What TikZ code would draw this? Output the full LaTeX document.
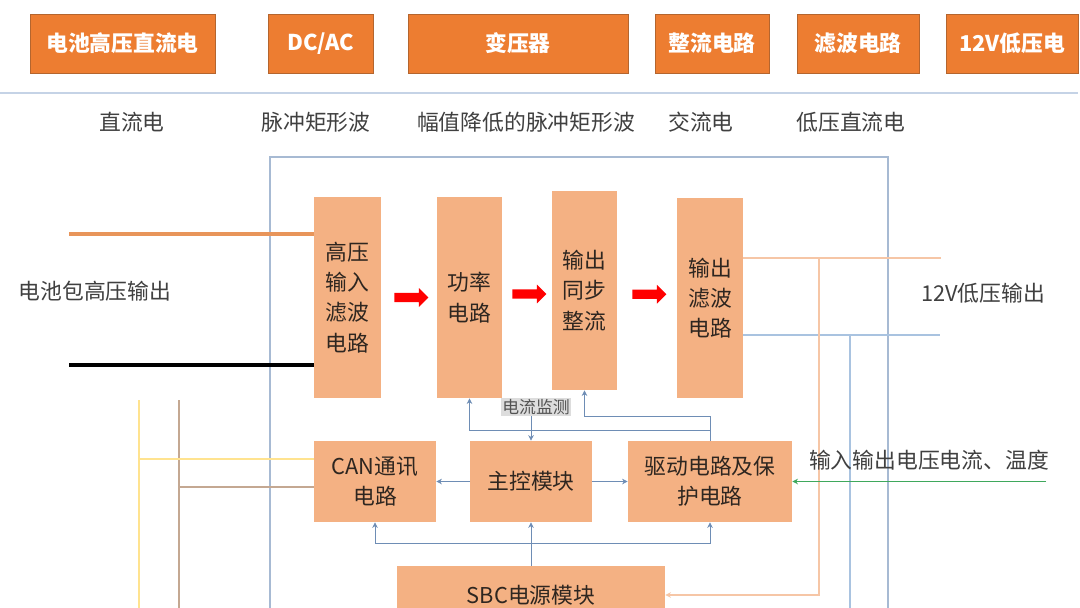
\documentclass[tikz,border=0pt]{standalone}
\usepackage{fontspec}
\setmainfont{Noto Sans CJK SC}
\usetikzlibrary{shapes.arrows, arrows.meta, positioning, calc}

\definecolor{topfill}{HTML}{ED7D31}
\definecolor{topedge}{HTML}{B4652E}
\definecolor{blockfill}{HTML}{F4B183}
\definecolor{blocktext}{HTML}{2E2620}
\definecolor{framecol}{HTML}{A7BAD3}
\definecolor{sepcol}{HTML}{C5D3E6}
\definecolor{linkcol}{HTML}{6E8DB5}
\definecolor{peachcol}{HTML}{F6C6A6}
\definecolor{skycol}{HTML}{A9C3E0}
\definecolor{wireorange}{HTML}{E8955A}
\definecolor{yellowcol}{HTML}{FFE38F}
\definecolor{tancol}{HTML}{C4A892}
\definecolor{greencol}{HTML}{3FA85C}
\definecolor{textgray}{HTML}{404040}
\definecolor{sensebg}{HTML}{DDDDDD}

\newcommand{\bigfont}{\fontsize{15.5}{21.5}\selectfont}
\newcommand{\smallfont}{\fontsize{12}{14}\selectfont}

\begin{document}
\begin{tikzpicture}[x=0.025cm, y=-0.025cm,
    topbox/.style={draw=topedge, line width=0.5pt, fill=topfill, text=white,
      font=\bigfont\bfseries, minimum height=1.475cm, inner sep=0pt},
    tag/.style={text=textgray, font=\bigfont, inner sep=0pt},
    block/.style={fill=blockfill, text=blocktext, font=\bigfont, align=center, inner sep=0pt},
    sense/.style={fill=sensebg, text=textgray!90, font=\smallfont, inner sep=1pt},
    link/.style={draw=linkcol, line width=0.6pt},
    tip/.style={-{Stealth[length=4pt,width=4pt]}},
    redarrow/.style={single arrow, fill=red, draw=none, minimum height=0.85cm,
      inner xsep=0pt, inner ysep=0.11cm, single arrow head extend=0.12cm,
      single arrow head indent=0pt},
    orangewire/.style={draw=wireorange, line width=2.2pt},
    blackwire/.style={draw=black, line width=2.2pt},
    peachwire/.style={draw=peachcol, line width=1.2pt},
    skywire/.style={draw=skycol, line width=1.2pt},
    yellowline/.style={draw=yellowcol, line width=1pt},
    tanline/.style={draw=tancol, line width=1pt},
    greenlink/.style={draw=greencol, line width=0.8pt}]
\clip (0,0) rectangle (1080,607);
\fill[white] (0,0) rectangle (1080,607);

% top row: conversion stages
\foreach \i/\x/\w/\txt in {
    1/122.5/4.625/电池高压直流电,
    2/320.5/2.625/{DC/AC},
    3/518/5.5/变压器,
    4/712/2.85/整流电路,
    5/858/3.05/滤波电路,
    6/1012/3.3/12V低压电
} {
    \node[topbox, minimum width=\w cm] (stage\i) at (\x,43.5) {\txt};
}
\draw[draw=sepcol, line width=1.1pt] (0,93) -- (1078,93);

% wave form under each stage
\foreach \j/\x/\txt in {
    1/132/直流电,
    2/316/脉冲矩形波,
    3/526/幅值降低的脉冲矩形波,
    4/701/交流电,
    5/851/低压直流电
} {
    \node[tag] (wave\j) at (\x,122) {\txt};
}

% converter housing
\draw[draw=framecol, line width=0.8pt] (270,157) rectangle (888,640);

% power path
\node[block, minimum width=1.675cm, minimum height=5.025cm] (hvf) at (347.5,297.5) {高压\\输入\\滤波\\电路};
\node[block, minimum width=1.625cm, minimum height=5.025cm] (pwr) at (469.5,297.5) {功率\\电路};
\node[block, minimum width=1.625cm, minimum height=4.975cm] (sync) at (584.5,290.5) {输出\\同步\\整流};
\node[block, minimum width=1.65cm, minimum height=5cm] (lvf) at (710,298) {输出\\滤波\\电路};
\path (hvf) -- (pwr) node[midway, redarrow] (flow1) {};
\path (pwr) -- (sync) node[midway, redarrow] (flow2) {};
\path (sync) -- (lvf) node[midway, redarrow] (flow3) {};

% control part
\node[block, minimum width=3.05cm, minimum height=2.025cm] (can) at (375,481.5) {CAN通讯\\电路};
\node[block, minimum width=3.025cm, minimum height=2.025cm] (mcu) at (531,481.5) {主控模块};
\node[block, minimum width=4.1cm, minimum height=2.025cm] (drv) at (710,481.5) {驱动电路及保\\护电路};
\node[block, minimum width=6.7cm, minimum height=1.45cm] (sbc) at (531,595) {SBC电源模块};
\node[sense] (curr) at (536,407) {电流监测};

% high voltage input
\coordinate (hvplus) at (69,234);
\coordinate (hvminus) at (69,365);
\draw[orangewire] (hvplus) -- (hvplus -| hvf.west);
\draw[blackwire] (hvminus) -- (hvminus -| hvf.west);
\node[tag] (hvout) at (95,291) {电池包高压输出};

% 12V output
\coordinate (lvplus) at (941,258);
\coordinate (lvminus) at (940,335);
\draw[peachwire] (lvplus -| lvf.east) -- (lvplus);
\draw[skywire] (lvminus -| lvf.east) -- (lvminus);
\node[tag] (lvout) at (983,293) {12V低压输出};
\coordinate (tapplus) at (819,258);
\coordinate (tapminus) at (850,335);
\draw[peachwire, line width=1pt, tip] (tapplus) |- (sbc.east);
\draw[skywire, line width=1pt] (tapminus) -- (850,620);

% CAN bus wires
\coordinate (canhi) at (139,459);
\coordinate (canlo) at (179,487);
\draw[yellowline] (139,400) -- (139,620);
\draw[tanline] (179,400) -- (179,620);
\draw[yellowline] (canhi) -- (canhi -| can.west);
\draw[tanline] (canlo) -- (canlo -| can.west);

% signal links
\draw[link, tip] (mcu) -- (can);
\draw[link, tip] (mcu) -- (drv);
\draw[link] (sbc.north) -- ++(0,-22) coordinate (bus);
\draw[link, tip] (bus) -- (mcu.south);
\draw[link, tip] (bus) -| (can.south);
\draw[link, tip] (bus) -| (drv.south);
\draw[link, tip] (drv.north) -- ++(0,-24) -| (sync.south);
\draw[link, tip] (drv.north) -- ++(0,-10) -| (pwr.south);
\draw[link, tip] (mcu.north |- curr.south) -- (mcu.north);

% measured values
\coordinate (meas) at (1046,481.5);
\draw[greenlink, tip] (meas) -- (drv.east);
\node[tag] (measlabel) at (929,460) {输入输出电压电流、温度};
\end{tikzpicture}
\end{document}
